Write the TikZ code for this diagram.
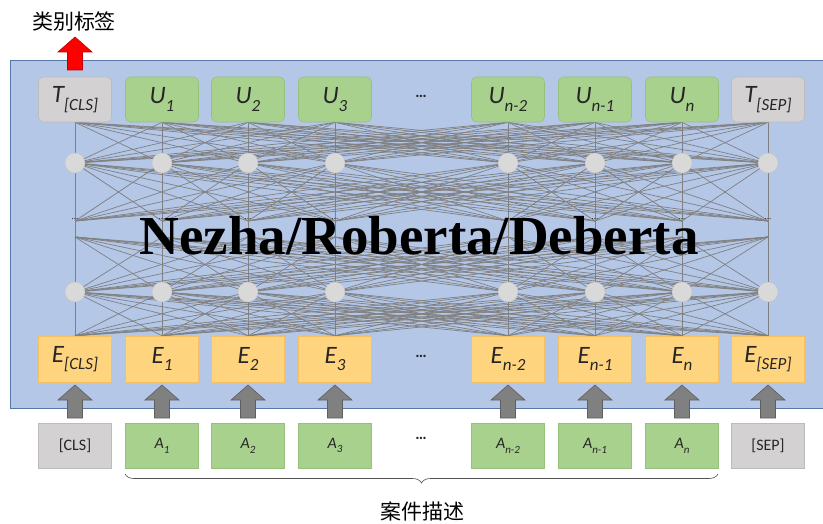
\documentclass[tikz,border=0pt]{standalone}
\usepackage{fontspec}
\setmainfont{Liberation Serif}
\setsansfont{Carlito}
\newfontfamily\cjk{Noto Sans CJK SC}
\usetikzlibrary{decorations.pathreplacing}
\definecolor{panelblue}{HTML}{B4C7E7}
\definecolor{panelborder}{HTML}{5677A8}
\definecolor{boxgreen}{HTML}{A9D18E}
\definecolor{greenborder}{HTML}{95C17A}
\definecolor{boxgrey}{HTML}{D3D1D1}
\definecolor{greyborder}{HTML}{BDBBBB}
\definecolor{boxorange}{HTML}{FFD47F}
\definecolor{orangeborder}{HTML}{F5C064}
\definecolor{netgrey}{HTML}{808080}
\definecolor{circgrey}{HTML}{D9D9D9}
\definecolor{arrgrey}{HTML}{808080}
\definecolor{arrborder}{HTML}{5F5F5F}
\definecolor{textdark}{HTML}{262626}
\newcommand\mysb[1]{\raisebox{-0.3em}{\fontsize{17}{17}\selectfont #1}}
\newcommand\mysbs[1]{\raisebox{-0.3em}{\fontsize{11}{11}\selectfont #1}}
\pgfdeclarelayer{bg}
\pgfdeclarelayer{netlayer}
\pgfsetlayers{bg,netlayer,main}
\begin{document}
\begin{tikzpicture}[x=1pt,y=-1pt,
  topbox/.style={draw=#1, line width=0.6pt, rounded corners=5pt, minimum width=73pt, minimum height=45pt,
     inner sep=0pt, text=textdark, font=\sffamily\itshape\fontsize{25}{25}\selectfont},
  ebox/.style={draw=orangeborder, fill=boxorange, line width=0.6pt, minimum width=73pt, minimum height=46pt,
     inner sep=0pt, text=textdark, font=\sffamily\itshape\fontsize{25}{25}\selectfont},
  abox/.style={draw=#1, line width=0.6pt, minimum width=73pt, minimum height=45pt,
     inner sep=0pt, text=textdark, font=\sffamily\itshape\fontsize{16}{16}\selectfont},
  neuron/.style={circle, fill=circgrey, draw=circgrey!90!black, line width=0.3pt, minimum size=20pt, inner sep=0pt},
  net/.style={draw=netgrey, line width=0.7pt},
  vdots/.style={font=\sffamily\fontsize{16}{16}\selectfont, text=textdark, inner sep=0pt},
  smalldots/.style={font=\sffamily\fontsize{9}{9}\selectfont, text=textdark, inner sep=0pt},
  uparr/.pic={\draw[pic actions, line width=0.6pt] (-17,0) -- (0,-15) -- (17,0) -- (7.5,0) -- (7.5,18) -- (-7.5,18) -- (-7.5,0) -- cycle;}
]
\useasboundingbox (0,0) rectangle (823,524);
% panel
\begin{pgfonlayer}{bg}
\fill[panelblue] (10,60) rectangle (823,408);
\draw[panelborder, line width=0.9pt] (830,60) -- (10,60) -- (10,408) -- (830,408);
\end{pgfonlayer}

% top row
\node[topbox=greyborder, fill=boxgrey] (t1) at (75,99.5) {T\mysb{[CLS]}};
\node[topbox=greenborder, fill=boxgreen] (t2) at (162,99.5) {U\mysb{1}};
\node[topbox=greenborder, fill=boxgreen] (t3) at (248,99.5) {U\mysb{2}};
\node[topbox=greenborder, fill=boxgreen] (t4) at (335,99.5) {U\mysb{3}};
\node[topbox=greenborder, fill=boxgreen] (t5) at (508,99.5) {U\mysb{n-2}};
\node[topbox=greenborder, fill=boxgreen] (t6) at (595,99.5) {U\mysb{n-1}};
\node[topbox=greenborder, fill=boxgreen] (t7) at (682,99.5) {U\mysb{n}};
\node[topbox=greyborder, fill=boxgrey] (t8) at (768,99.5) {T\mysb{[SEP]}};
\node[vdots] (topdots) at (421,96) {\textbf{\dots}};

% E row
\node[ebox] (e1) at (75,359) {E\mysb{[CLS]}};
\node[ebox] (e2) at (162,359) {E\mysb{1}};
\node[ebox] (e3) at (248,359) {E\mysb{2}};
\node[ebox] (e4) at (335,359) {E\mysb{3}};
\node[ebox] (e5) at (508,359) {E\mysb{n-2}};
\node[ebox] (e6) at (595,359) {E\mysb{n-1}};
\node[ebox] (e7) at (682,359) {E\mysb{n}};
\node[ebox] (e8) at (768,359) {E\mysb{[SEP]}};
\node[vdots] (edots) at (421,356) {\textbf{\dots}};

% bottom row
\node[abox=greyborder, fill=boxgrey, font=\sffamily\fontsize{16}{16}\selectfont] (a1) at (75,445.5) {[CLS]};
\node[abox=greenborder, fill=boxgreen] (a2) at (162,445.5) {A\mysbs{1}};
\node[abox=greenborder, fill=boxgreen] (a3) at (248,445.5) {A\mysbs{2}};
\node[abox=greenborder, fill=boxgreen] (a4) at (335,445.5) {A\mysbs{3}};
\node[abox=greenborder, fill=boxgreen] (a5) at (508,445.5) {A\mysbs{n-2}};
\node[abox=greenborder, fill=boxgreen] (a6) at (595,445.5) {A\mysbs{n-1}};
\node[abox=greenborder, fill=boxgreen] (a7) at (682,445.5) {A\mysbs{n}};
\node[abox=greyborder, fill=boxgrey, font=\sffamily\fontsize{16}{16}\selectfont] (a8) at (768,445.5) {[SEP]};
\node[vdots] (adots) at (421,438) {\textbf{\dots}};

% neurons and middle dots
\foreach \i/\x in {1/75,2/162,3/248,4/335,5/508,6/595,7/682,8/768}{
  \node[neuron] (c\i) at (\x,163) {};
  \node[neuron] (k\i) at (\x,292) {};
  \coordinate (u\i) at (\x,221);
  \coordinate (l\i) at (\x,237);
  \node[smalldots] (m\i) at (\x,219) {\dots};
}

% network lines
\begin{pgfonlayer}{netlayer}
\foreach \i in {1,...,8}{
  \draw[net] (t\i.south) -- (e\i.north);
  \foreach \j in {1,...,8}{
    \draw[net] (t\i.south) -- (c\j.center);
    \draw[net] (c\i.center) -- (u\j);
    \draw[net] (l\i) -- (k\j.center);
    \draw[net] (k\i.center) -- (e\j.north);
  }
}
\end{pgfonlayer}

% title
\node[font=\bfseries\fontsize{55}{55}\selectfont, inner sep=0pt] (title) at (419,236) {Nezha/Roberta/Deberta};

% grey input arrows
\foreach \i/\x in {1/75,2/162,3/248,4/335,5/508,6/595,7/682,8/768}{
  \pic[fill=arrgrey, draw=arrborder] at (\x,400) {uparr};
}

% red output arrow and label
\pic[fill=red, draw=red!75!black] at (75,52) {uparr};
\node[font=\cjk\fontsize{21}{21}\selectfont, inner sep=0pt] (label) at (74,22) {类别标签};

% brace
\coordinate (bl) at (125,474);
\coordinate (br) at (718,474);
\draw[decorate, decoration={brace, mirror, amplitude=9pt}, draw=textdark!80, line width=0.6pt] (bl) -- (br);
\node[font=\cjk\fontsize{21}{21}\selectfont, inner sep=0pt] (desc) at (422,511) {案件描述};
\end{tikzpicture}
\end{document}
